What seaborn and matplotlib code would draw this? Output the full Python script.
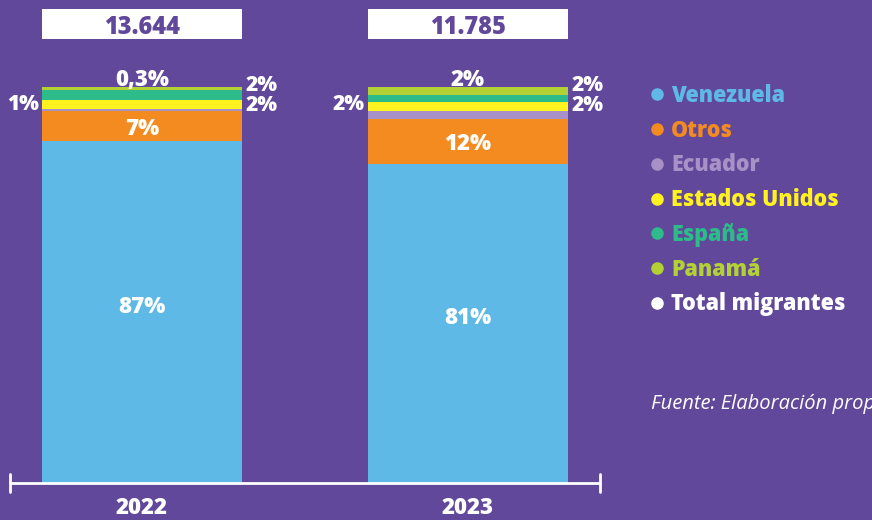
import matplotlib
matplotlib.use("Agg")
import matplotlib.pyplot as plt
from matplotlib.lines import Line2D
import numpy as np
import pandas as pd
import seaborn as sns

# data (share of migrants, %)
years = ["2022", "2023"]
totals = ["13.644", "11.785"]
countries = ["Venezuela", "Otros", "Ecuador", "Estados Unidos", "España", "Panamá"]
venezuela = [86.4, 80.6]
otros = [7.6, 11.4]
ecuador = [0.5, 2.0]
estados_unidos = [2.3, 2.3]
espana = [2.5, 1.8]
panama = [0.7, 2.0]

# labels as printed on the chart
lbl_venezuela = ["87%", "81%"]
lbl_otros = ["7%", "12%"]
lbl_ecuador = ["1%", "2%"]
lbl_eeuu = ["2%", "2%"]
lbl_espana = ["2%", "2%"]
lbl_panama = ["0,3%", "2%"]

colors = ["#5EB9E6", "#F48B20", "#A791C7", "#FFF21F", "#2DBB8A", "#B3D135"]
bg = "#62489A"
font = "Open Sans"

sns.set_style("white")
plt.rcParams["font.family"] = [font, "DejaVu Sans"]

df = pd.DataFrame({
    "year": years,
    "Venezuela": venezuela,
    "Otros": otros,
    "Ecuador": ecuador,
    "Estados Unidos": estados_unidos,
    "España": espana,
    "Panamá": panama,
})
cum = df[countries].cumsum(axis=1)

fig = plt.figure(figsize=(8.72, 5.20), dpi=100, facecolor=bg)
# axes spans the baseline line (x 10..600 px, baseline at y=483)
ax = fig.add_axes([10 / 872, 37 / 520, 590 / 872, 478 / 520])
ax.set_facecolor(bg)

# stacked bars: draw cumulative totals from the top down
for i in range(len(countries) - 1, -1, -1):
    sns.barplot(x=df["year"], y=cum[countries[i]], color=colors[i], width=0.613,
                saturation=1, ax=ax, linewidth=0)

ylim_top = 478 / 396 * 100
ax.set_xlim(-0.405, 1.405)
ax.set_ylim(0, ylim_top)

# white boxes with totals
box_bottom = (481 - 37) / 3.96
box_h = 30 / 3.96
ax.bar([0, 1], [box_h, box_h], bottom=box_bottom, width=0.613, color="white", linewidth=0)
for i, t in enumerate(totals):
    ax.text(i, box_bottom + box_h / 2, t, ha="center", va="center_baseline",
            color=bg, fontsize=17, fontweight="heavy")

lab = dict(color="white", fontsize=16, fontweight="heavy", va="center_baseline")
side = dict(lab, fontsize=15)
half = 0.613 / 2
for i in range(2):
    ax.text(i, venezuela[i] / 2 + 2, lbl_venezuela[i], ha="center", **lab)
    ax.text(i, cum["Venezuela"][i] + otros[i] / 2, lbl_otros[i], ha="center", **lab)
    ax.text(i, 102.6, lbl_panama[i], ha="center", **lab)
    ax.text(i - half - 0.01, 96.1, lbl_ecuador[i], ha="right", **side)
    ax.text(i + half + 0.01, 100.9, lbl_espana[i], ha="left", **side)
    ax.text(i + half + 0.01, 96.0, lbl_eeuu[i], ha="left", **side)

# baseline with end caps
ax.axis("off")
ax.plot([-0.405, 1.405], [0, 0], color="white", lw=2, clip_on=False)
for xe in [-0.405, 1.405]:
    ax.plot([xe, xe], [-2.2, 2.2], color="white", lw=2, clip_on=False)
for i, y in enumerate(years):
    ax.text(i, -5.6, y, ha="center", va="center_baseline", color="white",
            fontsize=16, fontweight="heavy")

# legend
handles = [Line2D([], [], marker="o", ls="", color=c, markersize=8) for c in colors]
handles.append(Line2D([], [], marker="o", ls="", color="white", markersize=8))
names = countries + ["Total migrantes"]
fig.legend(handles=handles, labels=names, loc="upper left",
           bbox_to_anchor=(640 / 872, 1 - 73 / 520), frameon=False,
           labelcolor=colors + ["white"], prop={"family": font, "weight": "heavy", "size": 15.5},
           handlelength=0.55, handletextpad=0.4, labelspacing=0.5, borderpad=0)

fig.text(651 / 872, 1 - 404 / 520, "Fuente: Elaboración propia", color="white",
         fontsize=14.5, style="italic", va="center")

fig.savefig("out.png", dpi=100, facecolor=bg)
